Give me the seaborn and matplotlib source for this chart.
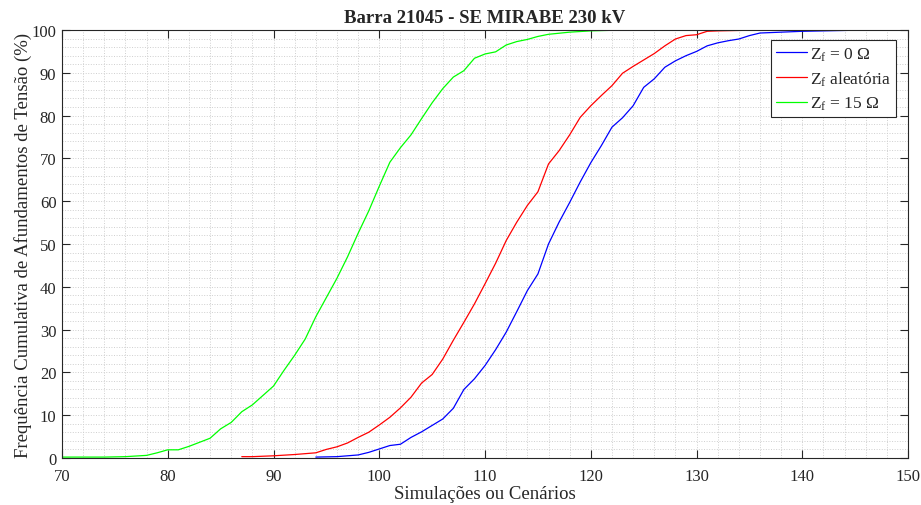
import numpy as np
import matplotlib
matplotlib.use('Agg')
import matplotlib.pyplot as plt
import seaborn as sns
import pandas as pd
from matplotlib.ticker import MultipleLocator

# curve Zf = 0 ohm
x_z0 = [94, 96, 98, 99, 100, 101, 102, 103, 104, 105, 106, 107, 108, 109, 110, 111, 112, 113,
        114, 115, 116, 117, 118, 119, 120, 121, 122, 123, 124, 125, 126, 127, 128, 129, 130,
        131, 132, 133, 134, 135, 136, 138, 140, 142, 144, 146]
y_z0 = [0.2, 0.3, 0.7, 1.3, 2.1, 2.9, 3.2, 4.8, 6.1, 7.6, 9.1, 11.6, 16.0, 18.5, 21.6, 25.3,
        29.4, 34.2, 39.1, 43.0, 50.0, 55.1, 59.7, 64.5, 69.0, 73.0, 77.3, 79.5, 82.3, 86.6,
        88.6, 91.3, 92.8, 94.0, 95.0, 96.3, 97.0, 97.5, 97.9, 98.7, 99.3, 99.5, 99.7, 99.8,
        99.9, 100.0]

# curve Zf aleatoria
x_zr = [87, 88, 90, 92, 93, 94, 95, 96, 97, 98, 99, 100, 101, 102, 103, 104, 105, 106, 107,
        108, 109, 110, 111, 112, 113, 114, 115, 116, 117, 118, 119, 120, 121, 122, 123, 124,
        125, 126, 127, 128, 129, 130, 131, 132, 134, 136, 138]
y_zr = [0.3, 0.3, 0.5, 0.8, 1.0, 1.2, 2.0, 2.6, 3.5, 4.8, 6.0, 7.7, 9.5, 11.7, 14.2, 17.5,
        19.5, 23.1, 27.5, 31.7, 36.0, 40.7, 45.5, 50.8, 55.1, 59.0, 62.2, 68.7, 71.8, 75.5,
        79.6, 82.3, 84.7, 87.0, 89.9, 91.5, 93.0, 94.5, 96.3, 97.9, 98.7, 98.9, 99.7, 99.8,
        99.9, 100.0, 100.0]

# curve Zf = 15 ohm
x_z15 = [70, 72, 74, 76, 78, 79, 80, 81, 82, 84, 85, 86, 87, 88, 90, 91, 92, 93, 94, 95, 96,
         97, 98, 99, 100, 101, 102, 103, 104, 105, 106, 107, 108, 109, 110, 111, 112, 113,
         114, 115, 116, 118, 120, 123]
y_z15 = [0.2, 0.2, 0.2, 0.3, 0.6, 1.2, 1.9, 1.9, 2.7, 4.6, 6.8, 8.3, 10.8, 12.4, 16.8, 20.5,
         24.0, 27.8, 33.0, 37.5, 42.0, 47.0, 52.5, 57.7, 63.5, 69.1, 72.5, 75.5, 79.3, 83.0,
         86.3, 89.0, 90.5, 93.4, 94.4, 94.9, 96.5, 97.3, 97.8, 98.5, 99.0, 99.5, 99.8, 100.0]

labels = ['Z$_\\mathrm{f}$ = 0 Ω', 'Z$_\\mathrm{f}$ aleatória', 'Z$_\\mathrm{f}$ = 15 Ω']
colors = ['#0000ff', '#ff0000', '#00ff00']

df = pd.concat([
    pd.DataFrame({'x': x_z0, 'y': y_z0, 'caso': labels[0]}),
    pd.DataFrame({'x': x_zr, 'y': y_zr, 'caso': labels[1]}),
    pd.DataFrame({'x': x_z15, 'y': y_z15, 'caso': labels[2]}),
], ignore_index=True)

sns.set_style('ticks')
plt.rcParams['font.family'] = ['Liberation Serif', 'DejaVu Serif']
plt.rcParams['mathtext.fontset'] = 'custom'
plt.rcParams['mathtext.rm'] = 'Liberation Serif'
plt.rcParams['mathtext.it'] = 'Liberation Serif:italic'
plt.rcParams['font.size'] = 12

fig, ax = plt.subplots(figsize=(9.21, 5.06), dpi=100)
fig.subplots_adjust(left=0.0673, right=0.986, bottom=0.093, top=0.9387)

sns.lineplot(data=df, x='x', y='y', hue='caso', palette=dict(zip(labels, colors)),
             estimator=None, sort=False, linewidth=0.9, ax=ax)

ax.set_xlim(70, 150)
ax.set_ylim(0, 100)
ax.xaxis.set_major_locator(MultipleLocator(10))
ax.yaxis.set_major_locator(MultipleLocator(10))
ax.xaxis.set_minor_locator(MultipleLocator(2))
ax.yaxis.set_minor_locator(MultipleLocator(2))
ax.grid(which='both', linestyle=':', color='#cfcfcf', linewidth=0.7)
ax.set_axisbelow(True)
ax.tick_params(which='major', direction='in', length=6, width=0.8, top=True, right=True,
               colors='#262626', labelsize=12)
ax.tick_params(axis='x', which='major', pad=7)
ax.tick_params(axis='y', which='major', pad=4)
ax.tick_params(which='minor', length=0)
for s in ax.spines.values():
    s.set_color('#262626')
    s.set_linewidth(0.8)

ax.set_title('Barra 21045 - SE MIRABE 230 kV', fontweight='bold', fontsize=13.5, pad=6)
ax.set_xlabel('Simulações ou Cenários', fontsize=13.5, labelpad=1)
ax.set_ylabel('Frequência Cumulativa de Afundamentos de Tensão (%)', fontsize=13.5, labelpad=0)

leg = ax.legend(loc='upper right', bbox_to_anchor=(0.99, 0.985), fontsize=12.5, fancybox=False,
                framealpha=1, edgecolor='#262626', handlelength=1.8, handletextpad=0.15,
                borderpad=0.3, labelspacing=0.4, borderaxespad=0.2)
leg.get_frame().set_linewidth(0.8)

plt.savefig('out.png', dpi=100)
